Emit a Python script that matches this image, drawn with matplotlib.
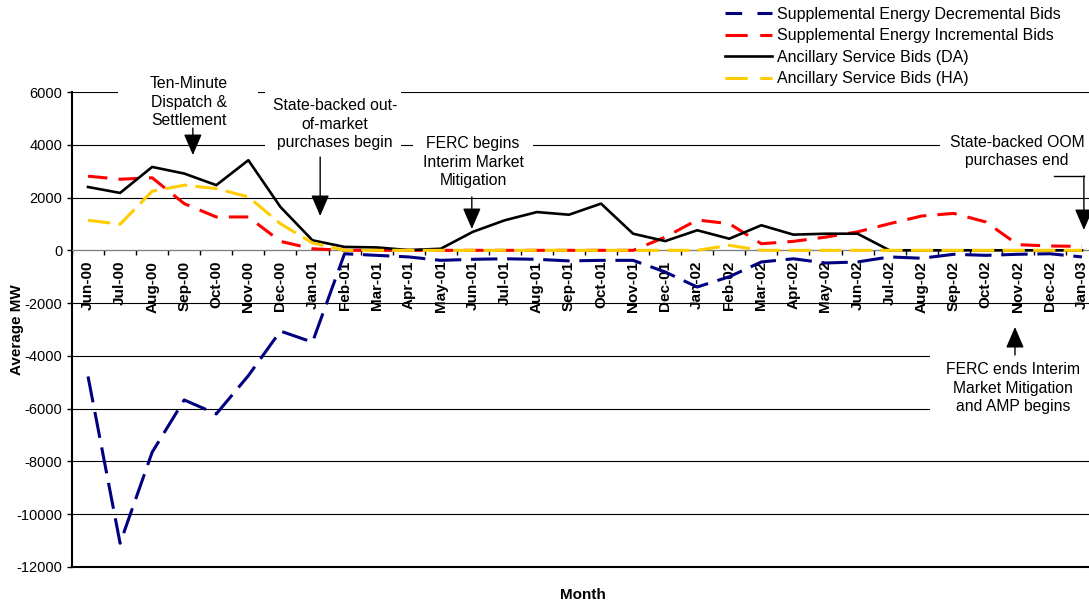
import matplotlib
matplotlib.use("Agg")
import matplotlib.pyplot as plt
from matplotlib.lines import Line2D
from matplotlib.patches import Rectangle

plt.rcParams['font.family'] = ['Liberation Sans', 'DejaVu Sans']
plt.rcParams['lines.scale_dashes'] = False
plt.rcParams['axes.unicode_minus'] = False

months = ["Jun-00", "Jul-00", "Aug-00", "Sep-00", "Oct-00", "Nov-00", "Dec-00",
          "Jan-01", "Feb-01", "Mar-01", "Apr-01", "May-01", "Jun-01", "Jul-01",
          "Aug-01", "Sep-01", "Oct-01", "Nov-01", "Dec-01",
          "Jan-02", "Feb-02", "Mar-02", "Apr-02", "May-02", "Jun-02", "Jul-02",
          "Aug-02", "Sep-02", "Oct-02", "Nov-02", "Dec-02", "Jan-03"]

# average MW by month
decremental = [-4780, -11100, -7650, -5670, -6200, -4750, -3060,
               -3480, -130, -190, -250, -380, -340, -320, -340, -400, -380, -380, -820,
               -1390, -1000, -440, -320, -480, -440, -250, -300, -150, -190, -150, -130,
               -250]
incremental = [2810, 2695, 2750, 1770, 1265, 1265, 340,
               60, 0, 0, 0, 0, 0, 0, 0, 0, 0, 0, 500,
               1150, 1010, 250, 340, 500, 700, 1010, 1300, 1400, 1075, 215, 165,
               150]
as_da = [2400, 2175, 3160, 2910, 2470, 3415, 1645,
         380, 130, 110, 10, 60, 700, 1140, 1450, 1350, 1770, 630, 350,
         760, 440, 950, 595, 630, 630, 0, 0, 0, 0, 0, 0,
         0]
as_ha = [1140, 990, 2240, 2470, 2340, 2025, 1010,
         280, 0, 0, 0, 0, 0, 0, 0, 0, 0, 0, 0,
         0, 190, 0, 0, 0, 0, 0, 0, 0, 0, 0, 0,
         0]

series_names = ["Supplemental Energy Decremental Bids",
                "Supplemental Energy Incremental Bids",
                "Ancillary Service Bids (DA)",
                "Ancillary Service Bids (HA)"]

NAVY = "#000080"
RED = "#FF0000"
GOLD = "#FFCC00"

fig = plt.figure(figsize=(10.89, 6.06), dpi=100)
ax = fig.add_axes([72 / 1089, 39 / 606, 1026 / 1089, 475 / 606])

x = list(range(len(months)))
ax.plot(x, decremental, color=NAVY, lw=2.2, dashes=(19, 7), zorder=3)
ax.plot(x, incremental, color=RED, lw=2.2, dashes=(14, 8), zorder=3)
ax.plot(x, as_da, color="black", lw=1.9, zorder=3)
ax.plot(x, as_ha, color=GOLD, lw=2.2, dashes=(16, 6), zorder=3)

ax.set_xlim(-0.5, len(months) - 0.5)
ax.set_ylim(-12000, 6000)
ax.set_yticks(range(-12000, 6001, 2000))
ax.tick_params(axis='y', labelsize=10.5, length=3.6, width=1, direction='out')
ax.yaxis.grid(True, color="black", lw=0.8)
ax.set_axisbelow(True)

# category axis sits on the zero line
ax.spines['bottom'].set_position(('data', 0))
ax.spines['bottom'].set_color("#808080")
ax.spines['top'].set_visible(False)
ax.spines['right'].set_visible(False)
ax.spines['left'].set_linewidth(1.5)
ax.set_xticks(x)
ax.set_xticklabels(months, rotation=90, fontsize=11, fontweight='bold')
ax.set_xticks([i - 0.5 for i in range(len(months) + 1)], minor=True)
ax.tick_params(axis='x', which='major', length=0, pad=7.5)
ax.tick_params(axis='x', which='minor', length=3.6, width=1, color="black", direction='out')
ax.axhline(-12000, color="black", lw=1.5, clip_on=False)

# event notes: white box, text, arrow
notes = [
    ("Ten-Minute\nDispatch &\nSettlement", 3.15, 5620, (0.94, 5.30, 4180, 6750)),
    ("State-backed out-\nof-market\npurchases begin", 7.70, 4786, (5.52, 9.76, 3725, 6150)),
    ("FERC begins\nInterim Market\nMitigation", 12.01, 3346, (10.14, 13.88, 2170, 4560)),
    ("State-backed OOM\npurchases end", 28.98, 3743, (26.58, 31.6, 2480, 4560)),
    ("FERC ends Interim\nMarket Mitigation\nand AMP begins", 28.85, -5217, (26.26, 31.6, -6360, -3850)),
]
for text, tx, ty, (x0, x1, y0, y1) in notes:
    ax.add_patch(Rectangle((x0, y0), x1 - x0, y1 - y0, facecolor="white",
                           edgecolor="none", zorder=1.5, clip_on=False))
    ax.text(tx, ty, text, ha='center', va='center', fontsize=11.3,
            linespacing=1.27, zorder=4, clip_on=False)

arrows = [
    ((3.27, 3611), (3.27, 4634)),
    ((7.24, 1300), (7.24, 3535)),
    ((11.97, 807), (11.97, 2020)),
    ((31.06, 769), (31.06, 2815)),
    ((28.91, -2906), (28.91, -3967)),
]
for tip, tail in arrows:
    ax.annotate("", xy=tip, xytext=tail, zorder=4,
                arrowprops=dict(arrowstyle="-|>,head_length=0.65,head_width=0.28",
                                mutation_scale=20, color="black", lw=1,
                                shrinkA=0, shrinkB=0))
# elbow leader for the OOM note
ax.plot([30.13, 31.06], [2815, 2815], color="black", lw=1, zorder=4, clip_on=False)

fig.text(17 / 1089, 1 - 330 / 606, "Average MW", rotation=90, ha='center',
         va='center', fontsize=11, fontweight='bold')
fig.text(583 / 1089, 1 - 595 / 606, "Month", ha='center', va='center',
         fontsize=11, fontweight='bold')

handles = [Line2D([], [], color=NAVY, lw=2.2, dashes=(12, 11)),
           Line2D([], [], color=RED, lw=2.2, dashes=(16, 9)),
           Line2D([], [], color="black", lw=1.9),
           Line2D([], [], color=GOLD, lw=2.2, dashes=(16, 9))]
fig.legend(handles, series_names, loc='upper left', bbox_to_anchor=(725 / 1089, 1 - 7 / 606),
           frameon=False, fontsize=11.5, borderpad=0, borderaxespad=0,
           handlelength=2.95, handletextpad=0.3, labelspacing=0.4)

fig.savefig("out.png", dpi=100)
